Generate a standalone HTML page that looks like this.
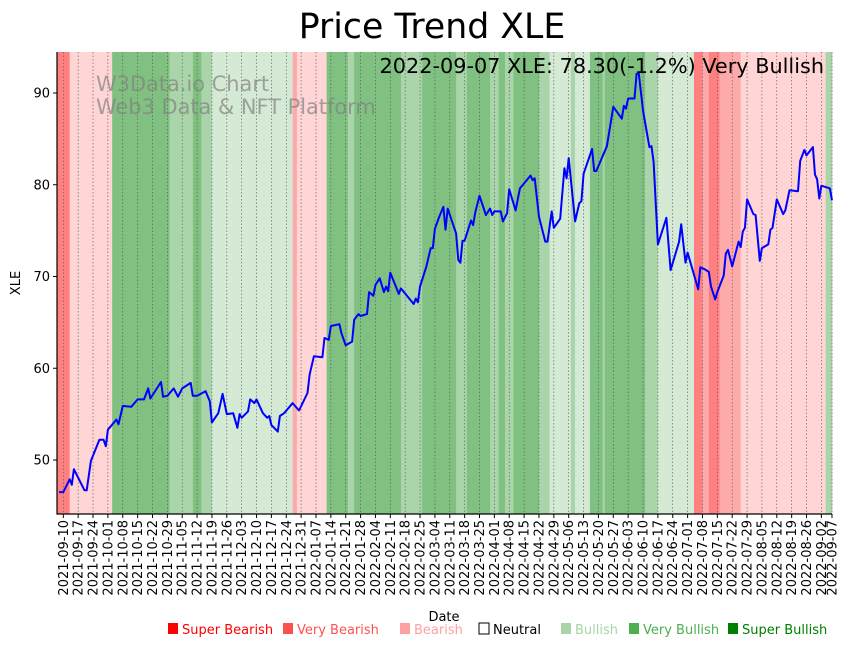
<!DOCTYPE html>
<html><head><meta charset="utf-8"><style>
body{margin:0;background:#fff;}
svg{display:block;font-family:"DejaVu Sans","Liberation Sans",sans-serif;}
</style></head><body>
<svg id="chart" width="851" height="646" viewBox="0 0 851 646" xmlns="http://www.w3.org/2000/svg">
<rect width="851" height="646" fill="#fff"/>
<g id="bands"></g>
<g id="grid"></g>
<g id="wm">
<text x="96" y="91" font-size="20.9" fill="#808080" fill-opacity="0.7">W3Data.io Chart</text>
<text x="96" y="114" font-size="20.9" fill="#808080" fill-opacity="0.7">Web3 Data &amp; NFT Platform</text>
</g>
<path id="line" fill="none" stroke="#0000ff" stroke-width="2" stroke-linejoin="round"/>
<g id="axes"></g>
<text x="432" y="38" font-size="34.7" text-anchor="middle">Price Trend XLE</text>
<text x="824" y="73" font-size="20.8" text-anchor="end">2022-09-07 XLE: 78.30(-1.2%) Very Bullish</text>
<text x="444" y="621" font-size="13" text-anchor="middle">Date</text>
<text transform="translate(20,283) rotate(-90)" font-size="13" text-anchor="middle">XLE</text>
<g id="legend"></g>
</svg>
<script>
const days=[-2,0,3,4,5,10,11,13,17,19,20,21,25,26,28,32,35,38,40,41,46,47,49,52,54,56,60,61,63,67,69,70,73,75,77,80,82,83,84,87,88,90,91,94,96,97,98,101,102,104,108,111,115,116,118,122,123,125,126,130,131,133,136,137,139,140,143,144,146,147,149,151,152,153,154,158,159,165,166,167,168,171,173,174,175,177,179,180,181,185,186,187,188,189,192,193,194,196,199,201,202,203,206,207,209,210,213,215,220,221,222,224,227,228,230,231,234,236,237,238,241,243,244,245,249,250,251,256,259,263,264,265,266,269,270,271,273,276,277,278,280,284,286,290,291,293,294,299,300,302,304,305,307,308,311,312,313,315,318,319,320,321,322,325,326,328,329,332,333,334,336,339,340,342,346,347,349,350,353,354,355,356,357,361,362];
const prices=[46.5,46.5,47.9,47.3,49.0,46.7,46.7,49.9,52.2,52.2,51.5,53.3,54.4,53.9,55.9,55.8,56.6,56.6,57.8,56.7,58.5,56.9,57.0,57.8,56.9,57.8,58.4,57.0,57.0,57.5,56.4,54.1,55.1,57.2,55.0,55.1,53.5,55.0,54.6,55.3,56.6,56.2,56.6,55.1,54.6,54.8,53.8,53.1,54.8,55.1,56.2,55.4,57.3,59.3,61.3,61.2,63.3,63.1,64.6,64.8,63.8,62.5,62.9,65.3,65.9,65.7,65.9,68.3,67.9,69.1,69.8,68.3,68.9,68.4,70.4,68.1,68.7,67.0,67.6,67.2,68.9,71.1,73.1,73.1,75.2,76.5,77.6,75.1,77.4,74.7,71.8,71.5,73.9,73.9,76.1,75.6,77.0,78.8,76.7,77.4,76.7,77.1,77.1,76.0,76.9,79.5,77.2,79.6,81.0,80.5,80.7,76.5,73.8,73.8,77.1,75.3,76.3,81.8,80.7,82.9,76.0,78.0,78.2,81.2,83.9,81.5,81.5,84.2,88.5,87.2,88.6,88.3,89.4,89.4,92.1,92.1,88.1,84.1,84.2,82.5,73.5,76.4,70.7,73.8,75.7,71.5,72.6,68.6,71.0,70.8,70.5,68.9,67.5,68.3,70.1,72.5,72.9,71.1,73.8,73.2,74.9,75.3,78.4,76.8,76.7,71.7,73.1,73.5,75.1,75.3,78.4,76.8,77.2,79.4,79.3,82.6,83.8,83.2,84.1,81.1,80.6,78.5,79.9,79.6,78.3];
const bandStart=[-3,3,23,50,61,65,70,108,110,124,134,137,159,169,185,190,201,205,208,212,224,229,239,241,248,254,255,274,280,297,301,304,309,319,359];
const bandEnd=[3,23,50,61,65,70,108,110,124,134,137,159,169,185,190,201,205,208,212,224,229,239,241,248,254,255,274,280,297,301,304,309,319,359,362];
const bandLevel=['r3','r1','g3','g2','g3','g2','g1','r2','r1','g3','g2','g3','g2','g3','g2','g3','g2','g3','g2','g3','g2','g1','g2','g1','g3','g2','g3','g2','g1','r3','r2','r3','r2','r1','g2'];
const yTicks=[50,60,70,80,90];
const tickLabels=[];
(function(){const s=new Date(Date.UTC(2021,8,10));for(let i=0;i<52;i++){const d=new Date(s.getTime()+i*7*864e5);tickLabels.push(d.toISOString().slice(0,10));}tickLabels.push('2022-09-07');})();
const levelColor={r3:'#ff8080',r2:'#ffaaaa',r1:'#ffd5d5',g1:'#d5ead5',g2:'#aad5aa',g3:'#80c080'};
const legendNames=['Super Bearish','Very Bearish','Bearish','Neutral','Bullish','Very Bullish','Super Bullish'];
const legendColors=['#ff0000','#ff5050','#ffa0a0','#000000','#a8d5a8','#4caf50','#008000'];
const legendX=[168,283,400,479,561,629,728];

const L=57,R=832,T=52,B=514;
const x=d=>63.3+d*2.1235;
const y=v=>460-(v-50)*9.175;
const NS='http://www.w3.org/2000/svg';
function mk(t,a,p){const e=document.createElementNS(NS,t);for(const k in a)e.setAttribute(k,a[k]);p.appendChild(e);return e;}
const bands=document.getElementById('bands');
bandStart.forEach((s,i)=>{
 const x0=Math.max(L,x(s)),x1=Math.min(R,x(bandEnd[i]));
 const r=mk('rect',{x:x0,y:T,width:Math.max(0,x1-x0+0.3),height:B-T,fill:levelColor[bandLevel[i]]},bands);
 
 
});
const grid=document.getElementById('grid'),axes=document.getElementById('axes');
tickLabels.forEach(lbl=>{
 const d=(Date.parse(lbl)-Date.parse('2021-09-10'))/864e5;const xx=x(d);
 const g=mk('line',{x1:xx,x2:xx,y1:T,y2:B,stroke:'#555',"stroke-width":0.6,"stroke-dasharray":"1.5,2"},grid);
 
 
 const tk=mk('line',{x1:xx,x2:xx,y1:B,y2:B+4,stroke:'#000',"stroke-width":1},axes);
 
 
 const t=mk('text',{transform:`translate(${xx+4.5},${B+6}) rotate(-90)`,"font-size":13,"text-anchor":"end"},axes);
 t.textContent=lbl;
 
 
});
yTicks.forEach(v=>{
 const yy=y(v);
 const tk=mk('line',{x1:L-4,x2:L,y1:yy,y2:yy,stroke:'#000'},axes);
 
 
 const t=mk('text',{x:L-7,y:yy+4.5,"font-size":13,"text-anchor":"end"},axes);
 t.textContent=v;
 
 
});
const sp=mk('path',{d:`M${L},${T}V${B}H${R}`,fill:'none',stroke:'#000',"stroke-width":1.2},axes);


document.getElementById('line').setAttribute('d',days.map((d,i)=>(i?'L':'M')+x(d).toFixed(1)+','+y(prices[i]).toFixed(1)).join(''));
const lg=document.getElementById('legend');
legendNames.forEach((n,i)=>{
 const c=legendColors[i];
 const sq=mk('rect',{x:legendX[i],y:623,width:10,height:11,fill:i===3?'#fff':c,stroke:i===3?'#000':'none'},lg);
 
 
 const t=mk('text',{x:legendX[i]+14,y:634,"font-size":13,fill:c},lg);
 t.textContent=n;
 
 
});
</script>
</body></html>
